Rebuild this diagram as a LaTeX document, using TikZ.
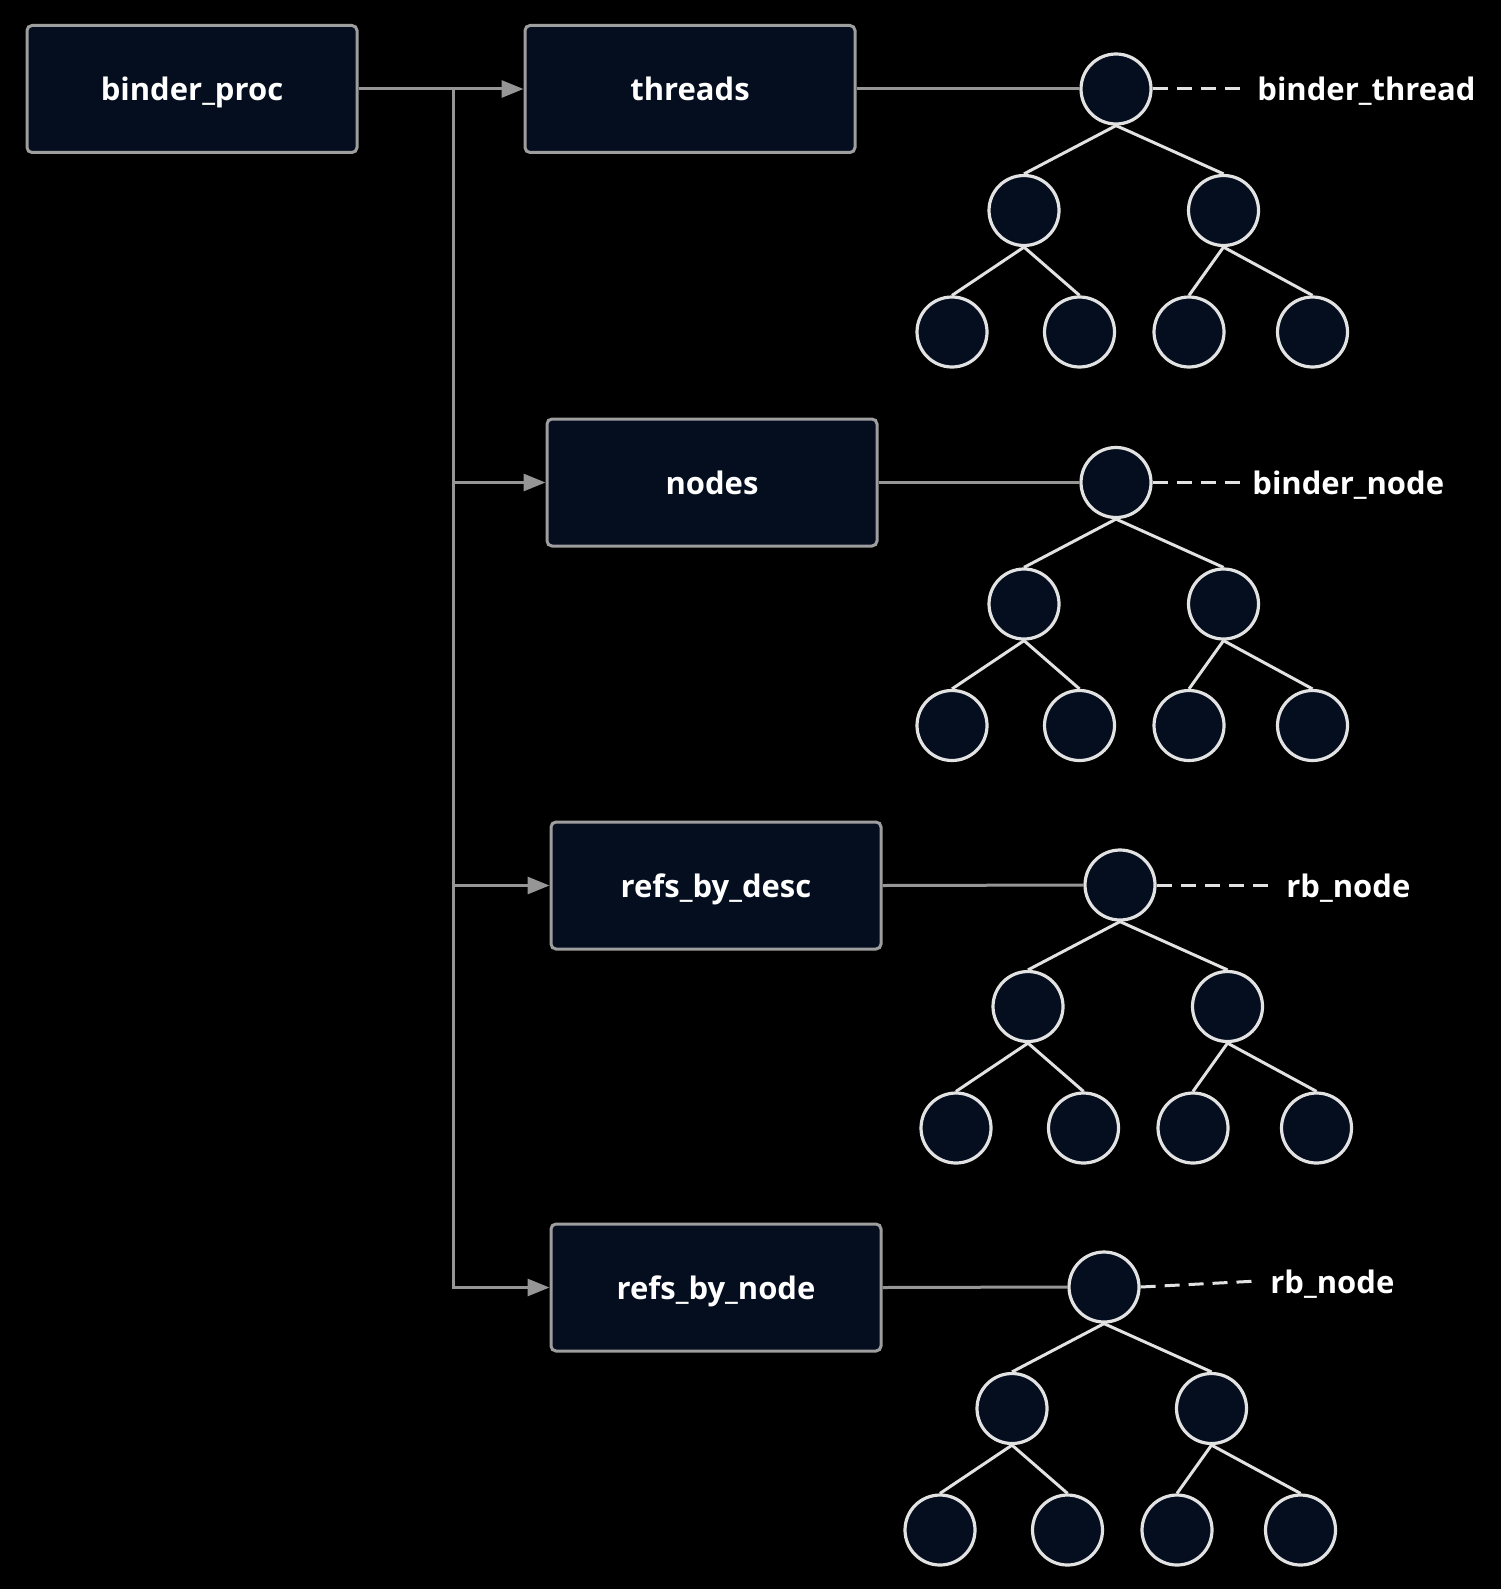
\documentclass[tikz,border=0pt]{standalone}
\usepackage{fontspec}
\setmainfont{Open Sans}
\usepackage{xcolor}
\usetikzlibrary{calc, arrows.meta, positioning}

\definecolor{boxfill}{RGB}{4,14,30}
\definecolor{boxline}{RGB}{158,158,158}
\definecolor{connline}{RGB}{150,150,150}
\definecolor{treeline}{RGB}{226,226,226}

\begin{document}
\begin{tikzpicture}[
    x=0.5pt, y=-0.5pt,
    every node/.style={font=\fontsize{15.5pt}{18pt}\selectfont\bfseries, text=white},
    field/.style={draw=boxline, line width=1.5pt, fill=boxfill, rounded corners=2.5pt,
      minimum width=165pt, minimum height=63.5pt, text height=12pt, text depth=0pt},
    conn/.style={draw=connline, line width=1.5pt},
    arr/.style={conn, -{Triangle[length=11pt, width=8.5pt]}},
    leaf/.style={circle, draw=treeline, line width=1.6pt, fill=boxfill, minimum size=35pt, inner sep=0pt},
    edge/.style={draw=treeline, line width=1.5pt},
    tag/.style={anchor=west, inner xsep=6pt, inner ysep=0pt, text height=12pt, text depth=0pt},
    tagline/.style={draw=treeline, line width=1.5pt, dash pattern=on 7.5pt off 4.5pt},
  ]
  % Background
  \fill[black] (0,0) rectangle (1501,1589);
  \useasboundingbox (0,0) rectangle (1501,1589);

  % Structure fields
  \node[field] (proc) at (192,89) {binder\_proc};
  \node[field] (threads) at (690,89) {threads};
  \node[field] (nodes) at (712,482.5) {nodes};
  \node[field] (desc) at (716,885.5) {refs\_by\_desc};
  \node[field] (byref) at (716,1287.5) {refs\_by\_node};

  % Connectors from binder_proc
  \coordinate (split) at (453,89);
  \draw[arr] (proc.east) -- (threads.west);
  \draw[arr] (split) |- (byref.west);
  \draw[arr] (split |- nodes.west) -- (nodes.west);
  \draw[arr] (split |- desc.west) -- (desc.west);

  % Red-black trees
  \foreach \t/\x/\y in {1/1116/89, 2/1116/482.5, 3/1120/885, 4/1104/1287}{
    \node[leaf] (t\t-r) at (\x,\y) {};
    \node[leaf] (t\t-a) at ($(\x,\y)+(-92,121.5)$) {};
    \node[leaf] (t\t-b) at ($(\x,\y)+(107.5,121.5)$) {};
    \node[leaf] (t\t-aa) at ($(\x,\y)+(-164,243)$) {};
    \node[leaf] (t\t-ab) at ($(\x,\y)+(-36.5,243)$) {};
    \node[leaf] (t\t-ba) at ($(\x,\y)+(73,243)$) {};
    \node[leaf] (t\t-bb) at ($(\x,\y)+(196.5,243)$) {};
    \draw[edge] (t\t-r.south) -- (t\t-a.north);
    \draw[edge] (t\t-r.south) -- (t\t-b.north);
    \draw[edge] (t\t-a.south) -- (t\t-aa.north);
    \draw[edge] (t\t-a.south) -- (t\t-ab.north);
    \draw[edge] (t\t-b.south) -- (t\t-ba.north);
    \draw[edge] (t\t-b.south) -- (t\t-bb.north);
  }

  % Field to tree root
  \draw[conn] (threads.east) -- (t1-r.west);
  \draw[conn] (nodes.east) -- (t2-r.west);
  \draw[conn] (desc.east) -- (t3-r.west);
  \draw[conn] (byref.east) -- (t4-r.west);

  % Element labels
  \node[tag] (l1) at (1245,89) {binder\_thread};
  \node[tag] (l2) at (1240,482.5) {binder\_node};
  \node[tag] (l3) at (1274,885) {rb\_node};
  \node[tag] (l4) at (1258,1281) {rb\_node};
  \draw[tagline] (t1-r.east) -- (l1.west);
  \draw[tagline] (t2-r.east) -- (l2.west);
  \draw[tagline] (t3-r.east) -- (l3.west);
  \draw[tagline] (t4-r.east) -- (l4.west);
\end{tikzpicture}
\end{document}
